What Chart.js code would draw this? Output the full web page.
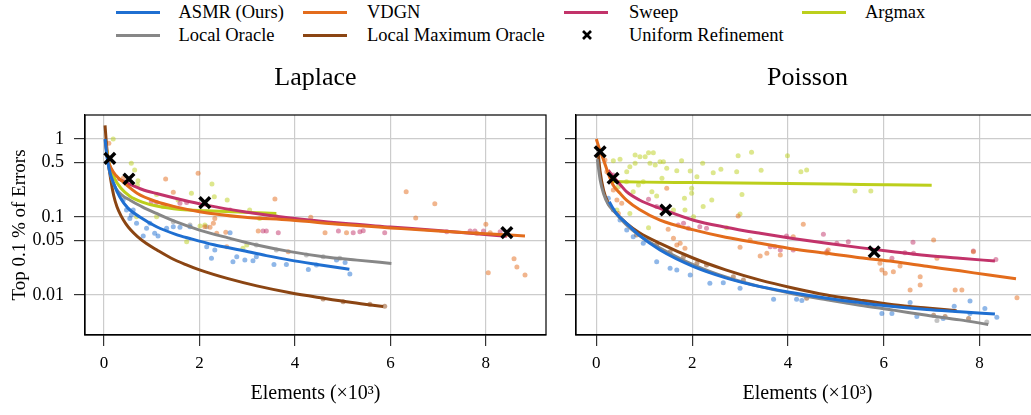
<!DOCTYPE html>
<html><head><meta charset="utf-8">
<script src="https://cdn.jsdelivr.net/npm/chart.js@4/dist/chart.umd.min.js"></script>
<style>
html,body{margin:0;padding:0;width:1031px;height:415px;overflow:hidden;background:#fff;}
#wrap{position:relative;width:1031px;height:415px;overflow:hidden;font-family:'Liberation Serif',serif;}
canvas{position:absolute;}
.lg{position:absolute;font-size:18.5px;line-height:22px;color:#000;white-space:nowrap;}
.ln{position:absolute;height:3px;}
</style></head><body>
<div id="wrap">
 <canvas id="c1" width="560" height="365" style="left:0;top:50px;width:560px;height:365px"></canvas>
 <canvas id="c2" width="500" height="365" style="left:560px;top:50px;width:500px;height:365px"></canvas>
 <div id="legend"></div>
</div>
<script>
// ---------- data (x in thousands of elements, y = top 0.1% of errors) ----------
const seriesNames = ['ASMR (Ours)','VDGN','Sweep','Argmax','Local Oracle','Local Maximum Oracle'];
const seriesColors = ['#1f6fd1','#e36c1c','#c2336a','#bccf1c','#878787','#8b4513'];
const uniformName = 'Uniform Refinement';
const panelTitles = ['Laplace','Poisson'];
const xTicks = [0,2,4,6,8];
const yTicks = [1,0.5,0.1,0.05,0.01];
const yTickLabels = ['1','0.5','0.1','0.05','0.01'];
const xAxisTitle = 'Elements (×10³)';
const yAxisTitle = 'Top 0.1 % of Errors';

// Laplace curves
const lapASMR = [[0.02,1.0],[0.06,0.6],[0.12,0.38],[0.2,0.27],[0.33,0.18],[0.5,0.13],[0.75,0.1],[1.1,0.075],[1.5,0.06],[1.8,0.053],[2.3,0.044],[2.85,0.0377],[3.4,0.032],[3.9,0.028],[4.5,0.0245],[5.14,0.0214]];
const lapVDGN = [[0.03,0.9],[0.08,0.55],[0.15,0.42],[0.25,0.34],[0.4,0.28],[0.7,0.2],[1.1,0.157],[1.5,0.135],[2.0,0.117],[2.9,0.1],[3.9,0.0913],[5.0,0.08],[6.0,0.0725],[7.0,0.066],[8.1,0.0607],[8.82,0.0571]];
const lapSweep = [[0.29,0.31],[0.5,0.27],[0.8,0.225],[1.1,0.2],[1.6,0.168],[2.11,0.143],[3.0,0.115],[3.9,0.097],[5.0,0.083],[6.0,0.0745],[7.0,0.067],[7.8,0.061],[8.44,0.0565]];
const lapArgmax = [[0.05,0.75],[0.1,0.5],[0.2,0.33],[0.35,0.235],[0.54,0.185],[0.8,0.155],[1.1,0.138],[1.6,0.125],[2.15,0.12],[2.9,0.115],[3.61,0.111]];
const lapLocal = [[0.03,0.9],[0.08,0.5],[0.15,0.32],[0.25,0.23],[0.4,0.185],[0.54,0.165],[0.8,0.135],[1.1,0.111],[1.5,0.087],[2.0,0.068],[2.6,0.054],[3.2,0.0437],[3.9,0.036],[4.6,0.031],[5.3,0.028],[6.02,0.0254]];
const lapLocalMax = [[0.02,1.5],[0.05,0.85],[0.09,0.5],[0.14,0.3],[0.2,0.19],[0.27,0.135],[0.35,0.105],[0.45,0.083],[0.56,0.068],[0.7,0.056],[0.88,0.046],[1.1,0.038],[1.4,0.0298],[1.7,0.0247],[2.0,0.021],[2.6,0.0162],[3.2,0.0131],[3.9,0.0107],[4.6,0.0091],[5.2,0.008],[5.85,0.0071]];
const lapUniform = [[0.12,0.565],[0.52,0.307],[2.11,0.153],[8.44,0.063]];

// Laplace scattered runs
const lapASMRpts = [[0.54,0.096],[0.57,0.106],[0.68,0.083],[0.82,0.057],[0.89,0.0716],[1.06,0.0618],[1.13,0.057],[1.31,0.0716],[1.45,0.075],[1.59,0.0738],[1.8,0.075],[2.15,0.0417],[2.25,0.0295],[2.32,0.0378],[2.64,0.063],[2.7,0.0267],[2.78,0.031],[2.95,0.0281],[3.12,0.0275],[3.19,0.031],[3.56,0.0247],[3.82,0.0247],[4.28,0.0213],[4.45,0.0243],[4.87,0.0281],[5.05,0.0262],[5.15,0.0186],[0.4,0.165],[0.47,0.123],[0.61,0.123],[0.96,0.083]];
const lapVDGNpts = [[1.29,0.307],[1.45,0.207],[1.97,0.363],[3.58,0.17],[4.33,0.099],[6.33,0.211],[6.93,0.148],[6.53,0.097],[8.0,0.0806],[8.05,0.0193],[8.59,0.0292],[8.65,0.0229],[8.82,0.018],[4.63,0.063],[3.23,0.066],[2.55,0.0636],[2.36,0.0618],[2.29,0.083],[2.22,0.0738],[2.11,0.075],[2.32,0.096],[2.57,0.0417],[3.86,0.0359],[5.08,0.063],[7.81,0.0618],[8.09,0.063],[0.1,0.88],[0.4,0.313]];
const lapSweepPts = [[0.99,0.157],[1.1,0.153],[1.59,0.15],[1.73,0.153],[2.64,0.123],[3.33,0.066],[3.4,0.066],[3.65,0.063],[4.91,0.066],[5.22,0.063],[5.36,0.0648],[5.43,0.0668],[5.88,0.063],[7.18,0.0648],[7.67,0.066],[7.77,0.066],[7.95,0.066],[8.3,0.0648]];
const lapArgmaxPts = [[0.19,1.0],[0.57,0.488],[0.64,0.4],[0.71,0.292],[0.7,0.257],[1.1,0.195],[1.55,0.165],[1.83,0.201],[2.26,0.265],[2.31,0.182],[2.58,0.165],[3.05,0.123],[2.01,0.0767],[2.11,0.079],[1.73,0.0483],[2.99,0.0438],[2.91,0.0397],[3.26,0.096],[3.61,0.101],[1.24,0.136],[1.1,0.101],[0.68,0.101]];
const lapLocalPts = [[1.45,0.087],[1.8,0.079],[2.15,0.075],[3.19,0.0438],[3.61,0.0378],[4.24,0.0326],[4.59,0.031],[4.94,0.0295]];
const lapLocalMaxPts = [[4.59,0.0089],[5.01,0.0082],[5.57,0.0076],[5.88,0.0072]];

// Poisson curves
const poiASMR = [[0.27,0.157],[0.4,0.115],[0.63,0.083],[0.9,0.058],[1.33,0.0377],[2.03,0.0231],[2.7,0.0166],[3.42,0.0128],[4.1,0.0107],[4.81,0.0091],[5.5,0.008],[6.2,0.0071],[6.9,0.0065],[7.59,0.0061],[8.32,0.0057]];
const poiVDGN = [[0.0,1.0],[0.08,0.7],[0.15,0.54],[0.25,0.36],[0.35,0.257],[0.5,0.2],[0.63,0.165],[0.9,0.125],[1.33,0.0913],[2.03,0.0683],[2.7,0.055],[3.42,0.046],[4.1,0.039],[4.81,0.0342],[5.5,0.03],[6.2,0.0268],[6.9,0.0233],[7.59,0.0204],[8.2,0.018],[8.76,0.0162]];
const poiSweep = [[0.25,0.4],[0.35,0.33],[0.5,0.26],[0.63,0.211],[0.9,0.165],[1.33,0.129],[2.03,0.091],[2.7,0.074],[3.42,0.0618],[4.1,0.053],[4.81,0.046],[5.5,0.0405],[6.2,0.0358],[6.9,0.032],[7.59,0.0295],[8.32,0.0273]];
const poiArgmax = [[0.29,0.285],[1.0,0.28],[2.0,0.276],[3.0,0.272],[4.0,0.268],[5.0,0.264],[6.0,0.26],[7.0,0.256]];
const poiLocal = [[0.02,0.55],[0.08,0.3],[0.15,0.2],[0.25,0.145],[0.35,0.123],[0.63,0.079],[0.9,0.058],[1.33,0.04],[2.03,0.0243],[2.7,0.017],[3.42,0.0128],[4.1,0.0104],[4.81,0.0087],[5.5,0.0074],[6.2,0.0064],[6.9,0.0055],[7.59,0.0048],[8.18,0.0042]];
const poiLocalMax = [[0.04,0.655],[0.08,0.38],[0.15,0.222],[0.25,0.15],[0.35,0.123],[0.63,0.083],[0.9,0.063],[1.33,0.046],[2.03,0.0296],[2.7,0.021],[3.42,0.0155],[4.1,0.0123],[4.81,0.01],[5.5,0.0086],[6.2,0.0075],[6.9,0.0068],[7.52,0.0063]];
const poiUniform = [[0.08,0.687],[0.35,0.314],[1.45,0.123],[5.8,0.0358]];

// Poisson scattered runs
const poiASMRpts = [[0.25,0.174],[0.355,0.123],[0.495,0.0916],[0.635,0.0681],[0.77,0.056],[0.98,0.046],[1.26,0.0267],[1.54,0.022],[1.68,0.0209],[1.96,0.018],[2.37,0.0141],[2.65,0.0144],[3.0,0.0122],[3.7,0.0088],[4.18,0.0088],[4.29,0.0085],[5.23,0.0082],[5.96,0.0058],[6.17,0.0058],[6.55,0.008],[6.69,0.0053],[7.24,0.005],[7.47,0.0072],[7.8,0.0084],[8.11,0.0067],[8.36,0.0052],[7.8,0.0058]];
const poiVDGNpts = [[0.18,0.538],[0.22,0.381],[0.355,0.222],[0.43,0.165],[0.46,0.111],[0.53,0.15],[1.47,0.233],[1.5,0.0695],[1.61,0.0533],[1.68,0.0438],[1.75,0.046],[1.85,0.0397],[2.96,0.103],[3.21,0.0507],[3.42,0.0316],[3.84,0.0326],[4.11,0.056],[4.32,0.0806],[4.81,0.0342],[5.92,0.0255],[5.96,0.0209],[6.03,0.019],[6.2,0.0199],[6.34,0.0235],[6.55,0.0116],[6.76,0.0172],[6.76,0.0134],[7.04,0.0507],[7.11,0.0295],[7.49,0.0116],[7.63,0.0116],[7.87,0.0359],[8.78,0.0092],[3.0,0.0409],[3.56,0.0342],[4.84,0.0378]];
const poiSweepPts = [[0.355,0.345],[1.09,0.169],[1.26,0.136],[1.71,0.079],[1.82,0.083],[1.92,0.0716],[2.16,0.075],[2.3,0.0716],[3.63,0.0417],[3.73,0.0417],[3.84,0.0378],[3.97,0.057],[4.11,0.0378],[4.74,0.06],[4.81,0.0359],[5.02,0.046],[5.26,0.0483],[6.17,0.0295],[6.44,0.0348],[6.61,0.0473],[6.62,0.0342],[7.87,0.0366],[8.34,0.0286]];
const poiArgmaxPts = [[0.355,0.527],[0.495,0.549],[0.635,0.381],[0.7,0.442],[0.81,0.624],[0.91,0.593],[0.81,0.488],[1.02,0.593],[1.09,0.667],[1.19,0.667],[1.12,0.488],[1.23,0.464],[1.33,0.512],[1.4,0.512],[1.47,0.421],[1.37,0.313],[1.68,0.393],[1.78,0.527],[1.96,0.389],[2.1,0.329],[2.22,0.488],[2.44,0.37],[2.6,0.408],[2.93,0.381],[2.96,0.611],[3.24,0.675],[3.44,0.397],[3.99,0.611],[4.27,0.381],[4.39,0.4],[5.4,0.215],[5.73,0.215],[2.41,0.165],[1.99,0.233],[1.99,0.201],[1.85,0.123],[1.61,0.123],[1.26,0.186],[1.16,0.211],[1.09,0.073],[0.88,0.257],[0.77,0.211],[0.7,0.111],[0.43,0.123],[0.46,0.245],[0.63,0.284],[0.98,0.284],[3.04,0.195],[2.72,0.073],[3.0,0.109],[2.03,0.101],[1.84,0.174],[2.23,0.136]];
const poiLocalPts = [[7.11,0.0047],[8.15,0.0045]];
const poiLocalMaxPts = [[0.84,0.0588],[1.05,0.0507],[1.26,0.0438],[1.54,0.0359],[1.82,0.031],[2.1,0.0255],[2.3,0.0243],[2.86,0.0172],[3.07,0.0156],[4.39,0.0091],[7.04,0.0055],[7.28,0.0053],[7.77,0.005]];

// ---------- drawing ----------
const FONT = "'Liberation Serif', serif";
function rgba(hex, a){const n=parseInt(hex.slice(1),16);return `rgba(${n>>16},${(n>>8)&255},${n&255},${a})`;}
function toXY(arr){return arr.map(([x,y])=>({x,y}));}

const framePlugin = {id:'frame', afterDraw(chart){const {ctx, chartArea:a}=chart; ctx.save(); ctx.strokeStyle='#000'; ctx.lineWidth=1.2; ctx.strokeRect(a.left, a.top, a.right-a.left, a.bottom-a.top); ctx.restore();}};

function makeChart(id, title, lines, pts, uniform, o){
  const datasets = [];
  lines.forEach((d,i)=>datasets.push({data:toXY(d), showLine:true, borderColor:seriesColors[i], backgroundColor:seriesColors[i], borderWidth:3, pointRadius:0, cubicInterpolationMode:'monotone', order:2}));
  pts.forEach((d,i)=>datasets.push({data:toXY(d), showLine:false, backgroundColor:rgba(seriesColors[i],0.5), borderWidth:0, pointRadius:2.5, order:3}));
  datasets.push({data:toXY(uniform), showLine:false, pointStyle:'crossRot', pointRadius:7.5, borderWidth:3.5, borderColor:'#000', backgroundColor:'#000', order:1});
  return new Chart(document.getElementById(id), {
    type:'scatter',
    data:{datasets},
    plugins:[framePlugin],
    options:{
      responsive:false, animation:false, events:[],
      layout:{padding:{left:0,right:o.padRight,top:0,bottom:0}},
      plugins:{
        legend:{display:false}, tooltip:{enabled:false},
        title:{display:true, text:title, fullSize:false, color:'#000', font:{family:FONT,size:26,weight:'normal'}, padding:{top:13,bottom:20.8}}
      },
      scales:{
        x:{type:'linear', min:o.xMin, max:o.xMax, bounds:'data',
           afterBuildTicks:s=>{s.ticks=xTicks.map(v=>({value:v}));},
           afterFit:s=>{s.height=80;},
           ticks:{color:'#000', font:{family:FONT,size:17}, padding:7, maxRotation:0, autoSkip:false, callback:v=>String(v)},
           grid:{color:'#cccccc', lineWidth:1.2, tickLength:11, tickColor:'#333', drawTicks:true},
           border:{display:true,color:'#000',width:1.2},
           title:{display:true, text:xAxisTitle, color:'#000', font:{family:FONT,size:20}, padding:{top:0,bottom:9}}
        },
        y:{type:'logarithmic', min:0.003071, max:2.031, bounds:'data',
           afterBuildTicks:s=>{s.ticks=yTicks.map(v=>({value:v}));},
           afterFit:s=>{s.width=o.yWidth;},
           ticks:{color:'#000', font:{family:FONT,size:18}, padding:10, autoSkip:false,
                  callback:v=>{const k=yTicks.indexOf(v); return o.showY && k>=0 ? yTickLabels[k] : '';}},
           grid:{color:'#cccccc', lineWidth:1.2, tickLength:11, tickColor:'#333', drawTicks:true},
           border:{display:true,color:'#000',width:1.2},
           title:{display:o.showY, text:yAxisTitle, color:'#000', font:{family:FONT,size:19}, padding:{top:9,bottom:0}}
        }
      }
    }
  });
}

makeChart('c1', panelTitles[0],
  [lapASMR, lapVDGN, lapSweep, lapArgmax, lapLocal, lapLocalMax],
  [lapASMRpts, lapVDGNpts, lapSweepPts, lapArgmaxPts, lapLocalPts, lapLocalMaxPts],
  lapUniform, {xMin:-0.40, xMax:9.26, yWidth:85, showY:true, padRight:14});
makeChart('c2', panelTitles[1],
  [poiASMR, poiVDGN, poiSweep, poiArgmax, poiLocal, poiLocalMax],
  [poiASMRpts, poiVDGNpts, poiSweepPts, poiArgmaxPts, poiLocalPts, poiLocalMaxPts],
  poiUniform, {xMin:-0.424, xMax:9.24, yWidth:16, showY:false, padRight:21});

// ---------- legend ----------
const lg = document.getElementById('legend');
const slots = [[116,178.5,12],[303,367,12],[564,629,12],[802,865,12],[116,178.5,35],[303,367,35]];
seriesNames.forEach((name,i)=>{
  const [lx,tx,cy]=slots[i];
  const l=document.createElement('div'); l.className='ln';
  l.style.cssText=`left:${lx}px;top:${cy-1.5}px;width:44px;background:${seriesColors[i]}`;
  lg.appendChild(l);
  const t=document.createElement('div'); t.className='lg'; t.textContent=name;
  t.style.left=tx+'px'; t.style.top=(cy-11)+'px';
  lg.appendChild(t);
});
const mk=document.createElementNS('http://www.w3.org/2000/svg','svg');
mk.setAttribute('width','12');mk.setAttribute('height','12');
mk.style.cssText='position:absolute;left:581px;top:29px';
mk.innerHTML='<line x1="2" y1="2" x2="10" y2="10" stroke="#000" stroke-width="2.6"/><line x1="10" y1="2" x2="2" y2="10" stroke="#000" stroke-width="2.6"/>';
lg.appendChild(mk);
const ut=document.createElement('div'); ut.className='lg'; ut.textContent=uniformName;
ut.style.left='629px'; ut.style.top='24px'; lg.appendChild(ut);
</script>
</body></html>
